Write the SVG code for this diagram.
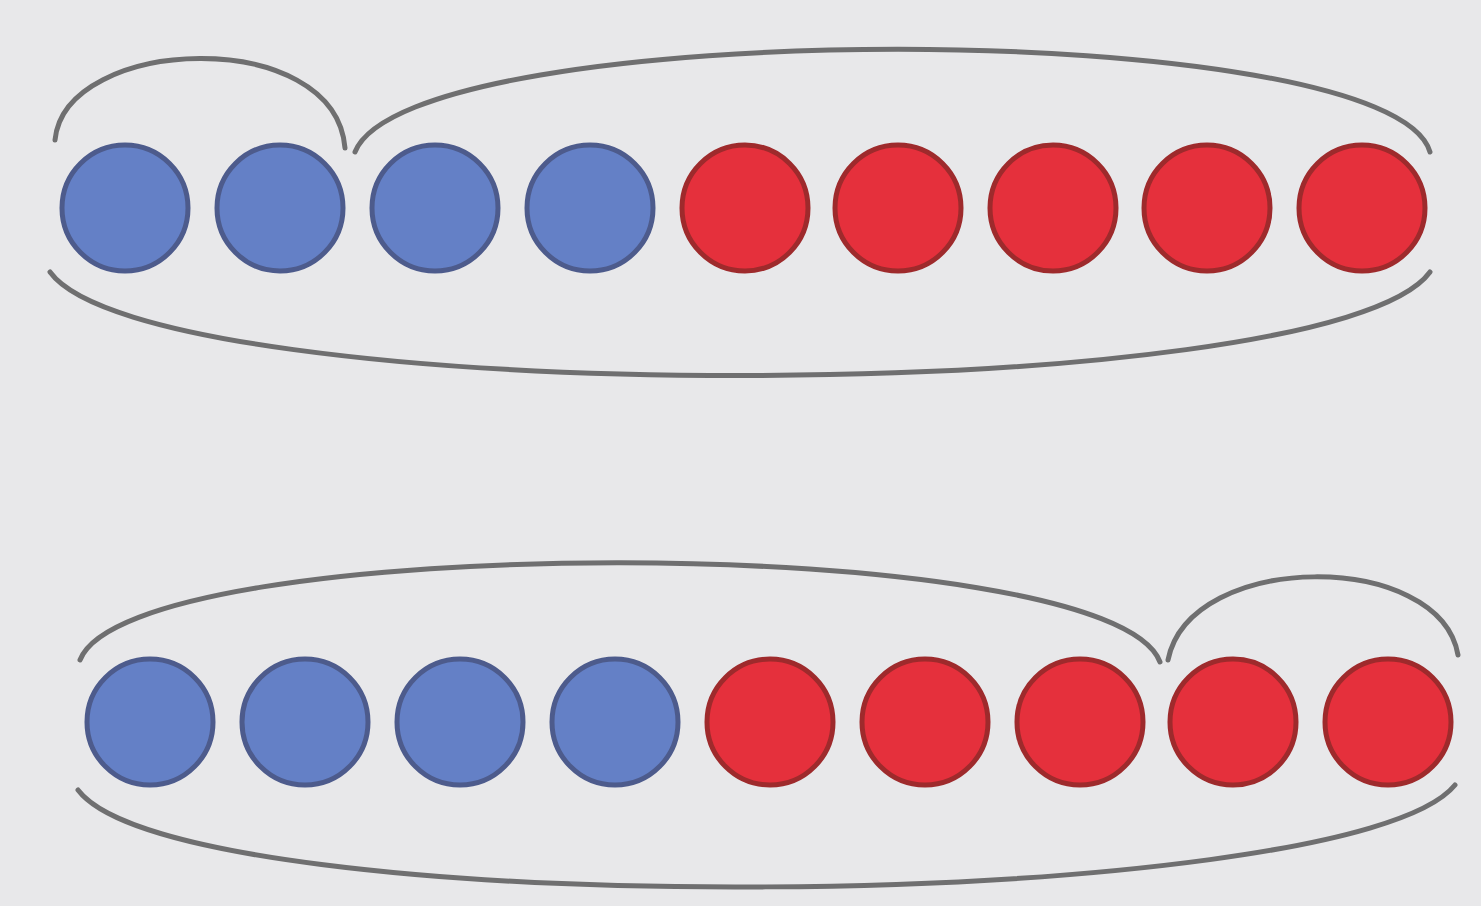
<svg xmlns="http://www.w3.org/2000/svg" width="1481" height="906" viewBox="0 0 1481 906">
<style>
.b{fill:#6480c6;stroke:#4d5b8c;stroke-width:5}
.r{fill:#e5303c;stroke:#9e2a2c;stroke-width:5}
.arc{fill:none;stroke:#6f6f70;stroke-width:5;stroke-linecap:round}
</style>
<rect x="0" y="0" width="1481" height="906" fill="#e8e8ea"/>
<g id="row1">
<circle class="b" cx="125" cy="208" r="63"/>
<circle class="b" cx="280" cy="208" r="63"/>
<circle class="b" cx="435" cy="208" r="63"/>
<circle class="b" cx="590" cy="208" r="63"/>
<circle class="r" cx="745" cy="208" r="63"/>
<circle class="r" cx="898" cy="208" r="63"/>
<circle class="r" cx="1053" cy="208" r="63"/>
<circle class="r" cx="1207" cy="208" r="63"/>
<circle class="r" cx="1362" cy="208" r="63"/>
</g>
<g id="row2">
<circle class="b" cx="150" cy="722" r="63"/>
<circle class="b" cx="305" cy="722" r="63"/>
<circle class="b" cx="460" cy="722" r="63"/>
<circle class="b" cx="615" cy="722" r="63"/>
<circle class="r" cx="770" cy="722" r="63"/>
<circle class="r" cx="925" cy="722" r="63"/>
<circle class="r" cx="1080" cy="722" r="63"/>
<circle class="r" cx="1233" cy="722" r="63"/>
<circle class="r" cx="1388" cy="722" r="63"/>
</g>
<g id="arcs">
<path class="arc" d="M55,140 C65,35 335,25 345,148"/>
<path class="arc" d="M355,152 C410,15 1390,15 1430,152"/>
<path class="arc" d="M50,272 C150,410 1330,410 1430,272"/>
<path class="arc" d="M80,660 C130,530 1110,530 1160,662"/>
<path class="arc" d="M1168,660 C1190,550 1440,550 1458,655"/>
<path class="arc" d="M78,790 C180,925 1350,915 1455,785"/>
</g>
</svg>
